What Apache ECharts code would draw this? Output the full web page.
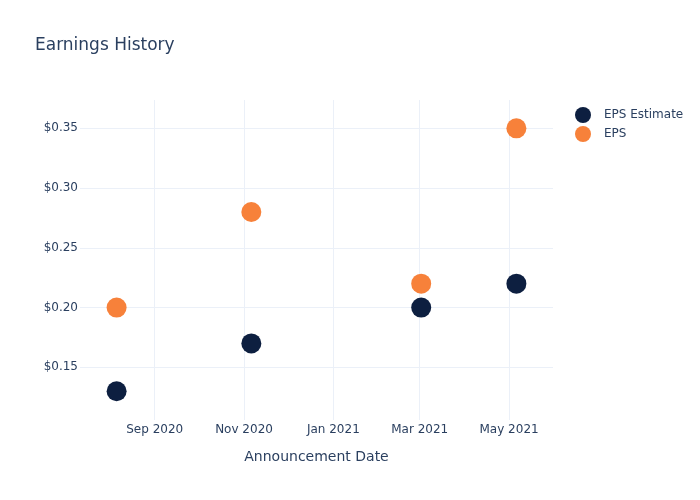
<!DOCTYPE html>
<html>
<head>
<meta charset="utf-8">
<script src="https://cdn.jsdelivr.net/npm/echarts@6/dist/echarts.min.js"></script>
<style>html,body{margin:0;padding:0;background:#fff}#c{width:700px;height:500px}</style>
</head>
<body>
<div id="c"></div>
<script>
const dates = ['2020-08-06', '2020-11-06', '2021-03-02', '2021-05-06'];
const epsEstimate = [0.13, 0.17, 0.20, 0.22];
const eps = [0.20, 0.28, 0.22, 0.35];
const xTicks = ['2020-09-01', '2020-11-01', '2021-01-01', '2021-03-01', '2021-05-01'];
const yTicks = [0.15, 0.20, 0.25, 0.30, 0.35];
const monthNames = ['Jan','Feb','Mar','Apr','May','Jun','Jul','Aug','Sep','Oct','Nov','Dec'];

const FONT = 'DejaVu Sans';
const TXT = '#2a3f5f';
const GRID = '#EBF0F8';
const chart = echarts.init(document.getElementById('c'), null, {renderer: 'canvas'});
chart.setOption({
  backgroundColor: '#fff',
  animation: false,
  textStyle: {fontFamily: FONT},
  title: {
    text: 'Earnings History', left: 30, top: 32,
    textStyle: {fontFamily: FONT, fontSize: 17, fontWeight: 'normal', color: TXT}
  },
  legend: {
    orient: 'vertical', left: 570, top: 102,
    icon: 'circle', itemWidth: 16, itemHeight: 16, itemGap: 3,
    textStyle: {fontFamily: FONT, fontSize: 12, color: TXT, padding: [0, 0, 0, 8]},
    data: ['EPS Estimate', 'EPS']
  },
  grid: {left: 80, right: 147, top: 100, bottom: 80},
  xAxis: {
    type: 'time',
    min: '2020-07-12', max: '2021-05-31',
    splitNumber: 5,
    name: 'Announcement Date', nameLocation: 'middle', nameGap: 30,
    nameTextStyle: {fontFamily: FONT, fontSize: 14, color: TXT},
    axisLine: {show: false}, axisTick: {show: false},
    axisLabel: {
      fontFamily: FONT, fontSize: 12, color: TXT, margin: 4,
      showMinLabel: false, showMaxLabel: false,
      formatter: function (v) {
        const d = new Date(v);
        if (d.getDate() !== 1 || d.getHours() !== 0) return '';
        return monthNames[d.getMonth()] + ' ' + d.getFullYear();
      },
      rich: {}
    },
    splitLine: {show: false}
  },
  yAxis: {
    type: 'value',
    min: 0.1059, max: 0.3737,
    splitNumber: 5,
    axisLine: {show: false}, axisTick: {show: false},
    axisLabel: {
      fontFamily: FONT, fontSize: 12, color: TXT, margin: 2,
      showMinLabel: false, showMaxLabel: false,
      formatter: function (v) {
        const r = Math.round(v * 100) / 100;
        if (Math.abs(r * 20 - Math.round(r * 20)) > 1e-6 || Math.abs(v - r) > 1e-6) return '';
        return '$' + v.toFixed(2);
      }
    },
    splitLine: {show: false}
  },
  series: [
    {
      name: 'grid', type: 'line', data: [], z: 0, silent: true,
      markLine: {
        silent: true, symbol: 'none', animation: false, z: 0, zlevel: 0,
        label: {show: false},
        lineStyle: {color: GRID, width: 1, type: 'solid'},
        emphasis: {disabled: true},
        data: yTicks.map(v => ({yAxis: v})).concat(xTicks.map(d => ({xAxis: d})))
      }
    },
    {
      name: 'EPS Estimate', type: 'scatter', symbolSize: 20, z: 5,
      itemStyle: {color: '#0d1f40', opacity: 1},
      data: dates.map((d, i) => [d, epsEstimate[i]])
    },
    {
      name: 'EPS', type: 'scatter', symbolSize: 20, z: 5,
      itemStyle: {color: '#f7813a', opacity: 1},
      data: dates.map((d, i) => [d, eps[i]])
    }
  ]
});
</script>
</body>
</html>
